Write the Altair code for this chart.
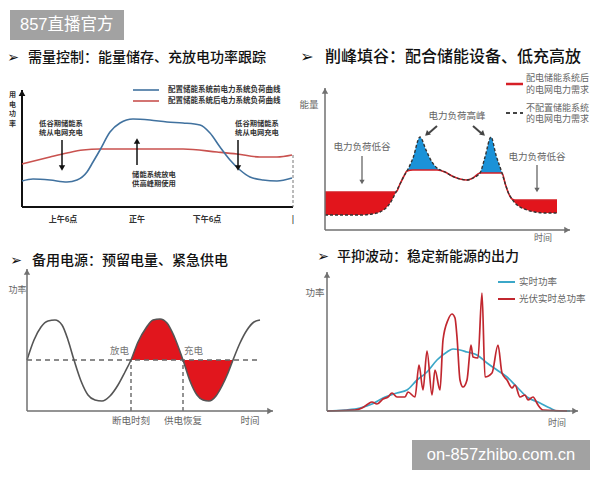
import altair as alt
import numpy as np
import pandas as pd

# ---------------- data ----------------
TITLES = ["需量控制：能量储存、充放电功率跟踪", "削峰填谷：配合储能设备、低充高放",
          "备用电源：预留电量、紧急供电", "平抑波动：稳定新能源的出力"]
WATERMARKS = ["857直播官方", "on-857zhibo.com.cn"]

# Panel 1 – demand control (x: time units along axis, y: load units)
P1_BEFORE_X = [0, 11, 28, 45, 55, 65, 71, 78, 88, 98, 111, 128, 145, 161, 178, 188, 198, 208, 218, 228, 241, 255, 270]
P1_BEFORE = [26, 28, 27, 25, 27, 35, 45, 57, 75, 84, 88, 87, 85, 84, 82, 74, 60, 47, 37, 30, 27, 26, 29]
P1_AFTER_X = [0, 28, 45, 61, 78, 128, 161, 195, 215, 238, 255, 270]
P1_AFTER = [43, 50, 54, 57, 58, 58, 58, 55, 53, 50, 50, 52]
P1_LEGEND = ["配置储能系统前电力系统负荷曲线", "配置储能系统后电力系统负荷曲线"]
P1_TICK_LABELS = ["上午6点", "正午", "下午6点", "|"]
P1_TICK_X = [41, 115, 185, 271]
P1_NOTES = [["低谷期储能系", "统从电网充电"], ["储能系统放电", "供高峰期使用"], ["低谷期储能系", "统从电网充电"]]
P1_YLABEL = ["用", "电", "功", "率"]

# Panel 2 – peak shaving
P2_X = [0, 20, 35, 47, 55, 62, 67, 71, 75, 79, 82, 88, 95, 101, 107, 112, 120, 127, 135, 142,
        148, 155, 160, 166, 171, 177, 180, 183, 187, 190, 195, 202, 210, 220, 232]
P2_WITHOUT = [15, 15, 15, 16, 18, 23, 30, 38, 46, 54, 59, 72, 93, 80, 68, 62, 58, 54, 51, 50,
              52, 57, 73, 93, 75, 57, 47, 38, 31, 27, 23, 20, 18, 17, 17]
P2_WITH = [38, 38, 38, 38, 38, 38, 38, 38, 46, 54, 59, 60, 60, 60, 60, 60, 58, 54, 51, 50,
           52, 57, 57, 57, 57, 57, 47, 38, 31, 30, 30, 30, 30, 30, 30]
P2_LEGEND = [["配电储能系统后", "的电网电力需求"], ["不配置储能系统", "的电网电力需求"]]
P2_NOTES = ["电力负荷低谷", "电力负荷高峰", "电力负荷低谷"]
P2_AXES = ["能量", "时间"]

# Panel 3 – backup power
P3_X = [0, 7, 14, 21, 28, 35, 41, 47, 54, 61, 68, 75, 83, 91, 98, 104, 111, 119, 126, 133,
        140, 147, 156, 163, 170, 176, 182, 189, 195, 201, 206, 213, 220, 227, 233]
P3_Y = [51, 71, 84, 90, 91, 86, 71, 51, 30, 16, 11, 10, 15, 26, 39, 51, 69, 83, 91, 92,
        88, 75, 51, 30, 16, 11, 10, 15, 25, 38, 51, 68, 81, 89, 91]
P3_BASE = 51
P3_EVENTS_X = [104, 156]
P3_EVENT_LABELS = ["断电时刻", "供电恢复"]
P3_FLOW_LABELS = ["放电", "充电"]
P3_AXES = ["功率", "时间"]

# Panel 4 – smoothing fluctuations
P4_SMOOTH_X = [0, 18, 33, 45, 56, 70, 80, 90, 100, 110, 120, 126, 133, 140, 150, 160, 170, 180, 190, 200, 213, 223, 230, 243]
P4_SMOOTH = [0, 1, 3, 7, 13, 18, 21, 31, 39, 51, 59, 62, 61, 59, 56, 48, 41, 34, 24, 14, 8, 3, 0, 0]
P4_PV_X = [0, 28, 35, 41, 45, 50, 56, 61, 65, 70, 78, 81, 88, 92, 96, 100, 105, 108, 113, 116,
           121, 125, 128, 130, 133, 136, 140, 144, 146, 151, 155, 158, 165, 171, 175, 180, 185, 188, 193, 198,
           201, 206, 211, 216, 240]
P4_PV = [0, 1, 3, 7, 9, 7, 12, 14, 18, 14, 14, 19, 14, 46, 21, 60, 16, 41, 21, 71,
         91, 97, 93, 74, 31, 24, 31, 66, 54, 53, 118, 34, 38, 66, 38, 31, 23, 26, 14, 16,
         11, 14, 6, 1, 0]
P4_LEGEND = ["实时功率", "光伏实时总功率"]
P4_AXES = ["功率", "时间"]

# ---------------- layout helpers ----------------
OFF = 8
FONT = "Noto Sans CJK SC"
ONE = pd.DataFrame({"k": [0]})
FRAMES = {
    1: dict(x0=22, y0=207, w=271, h=117),
    2: dict(x0=325, y0=230, w=245, h=142),
    3: dict(x0=27, y0=411, w=246, h=142),
    4: dict(x0=327, y0=411, w=251, h=139),
}


def sx(p):
    f = FRAMES[p]
    return alt.Scale(domain=[0, f["w"]], range=[f["x0"] - OFF, f["x0"] + f["w"] - OFF], nice=False, zero=False)


def sy(p):
    f = FRAMES[p]
    return alt.Scale(domain=[0, f["h"]], range=[f["y0"] - OFF, f["y0"] - f["h"] - OFF], nice=False, zero=False)


def X(p, col="x"):
    return alt.X(f"{col}:Q", scale=sx(p), axis=None)


def Y(p, col="y"):
    return alt.Y(f"{col}:Q", scale=sy(p), axis=None)


layers = []


def txt(s, x, y, size=9.5, color="#666", align="center", weight="normal", font=FONT):
    layers.append(alt.Chart(ONE).mark_text(text=s, align=align, baseline="middle", fontSize=size,
                                           color=color, font=font, fontWeight=weight)
                  .encode(x=alt.value(x - OFF), y=alt.value(y - OFF)))


def seg(x1, y1, x2, y2, color, width, dash=None):
    kw = dict(color=color, strokeWidth=width)
    if dash:
        kw["strokeDash"] = dash
    layers.append(alt.Chart(ONE).mark_rule(**kw).encode(
        x=alt.value(x1 - OFF), y=alt.value(y1 - OFF), x2=alt.value(x2 - OFF), y2=alt.value(y2 - OFF)))


def head(x, y, shape, color, size=40, angle=0):
    layers.append(alt.Chart(ONE).mark_point(shape=shape, filled=True, size=size, color=color, opacity=1,
                                            angle=angle, strokeWidth=0)
                  .encode(x=alt.value(x - OFF), y=alt.value(y - OFF)))


def box(x1, y1, x2, y2, color):
    layers.append(alt.Chart(ONE).mark_rect(color=color).encode(
        x=alt.value(x1 - OFF), x2=alt.value(x2 - OFF), y=alt.value(y1 - OFF), y2=alt.value(y2 - OFF)))


def axes(p, color, width, heads, hsize=40):
    f = FRAMES[p]
    df = pd.DataFrame({"x": [0, 0], "y": [0, 0], "x2": [f["w"], 0], "y2": [0, f["h"]]})
    layers.append(alt.Chart(df).mark_rule(color=color, strokeWidth=width)
                  .encode(x=X(p), y=Y(p), x2="x2:Q", y2="y2:Q"))
    if "y" in heads:
        layers.append(alt.Chart(pd.DataFrame({"x": [0], "y": [f["h"] - 3]}))
                      .mark_point(shape="triangle-up", filled=True, size=hsize, color=color, opacity=1)
                      .encode(x=X(p), y=Y(p)))
    if "x" in heads:
        layers.append(alt.Chart(pd.DataFrame({"x": [f["w"] - 3], "y": [0]}))
                      .mark_point(shape="triangle-right", filled=True, size=hsize, color=color, opacity=1)
                      .encode(x=X(p), y=Y(p)))


def line(p, df, color, width, dash=None, interp="monotone"):
    kw = dict(color=color, strokeWidth=width, interpolate=interp)
    if dash:
        kw["strokeDash"] = dash
    layers.append(alt.Chart(df).mark_line(**kw).encode(x=X(p), y=Y(p)))


# ---------------- watermarks ----------------
box(10, 10, 124, 40, "#a2a2a2")
txt(WATERMARKS[0], 20, 25, size=16.5, color="white", align="left", font="Liberation Sans, Noto Sans CJK SC")

# ---------------- titles ----------------
TITLE_POS = [(13, 28, 58, 14), (307, 325, 57, 16), (16, 32, 261, 14), (323, 337, 257, 14)]
for t, (ax_, tx, ty, fs) in zip(TITLES, TITLE_POS):
    txt("➢", ax_, ty, size=fs, color="#111", font="DejaVu Sans")
    txt(t, tx, ty, size=fs, color="#111", align="left", weight=500)

# ---------------- panel 1 ----------------
axes(1, "#111", 2, "y", hsize=45)
seg(293, 155, 293, 207, "#777", 1, [3, 2])
df1a = pd.DataFrame({"x": P1_AFTER_X, "y": P1_AFTER})
df1b = pd.DataFrame({"x": P1_BEFORE_X, "y": P1_BEFORE})
line(1, df1a, "#c9524f", 1.6)
line(1, df1b, "#41729f", 1.6)
seg(133, 90, 159, 90, "#41729f", 1.6)
seg(133, 101, 159, 101, "#c9524f", 1.6)
txt(P1_LEGEND[0], 168, 90, size=7.5, color="#333", align="left", weight="bold")
txt(P1_LEGEND[1], 168, 101, size=7.5, color="#333", align="left", weight="bold")
ticks1 = pd.DataFrame({"x": P1_TICK_X, "label": P1_TICK_LABELS})
layers.append(alt.Chart(ticks1).mark_text(font=FONT, fontSize=8, fontWeight="bold", color="#333", baseline="middle")
              .encode(x=X(1), y=alt.value(220 - OFF), text="label:N"))
for i, ch in enumerate(P1_YLABEL):
    txt(ch, 12.5, 95 + i * 9.5, size=7, color="#333", weight="bold")
# arrows
seg(62, 140, 62, 166, "#111", 1.5)
head(62, 168, "triangle-down", "#111", 40)
seg(137, 165, 137, 143, "#111", 1.5)
head(137, 141, "triangle-up", "#111", 40)
seg(238, 140, 238, 166, "#111", 1.5)
head(238, 168, "triangle-down", "#111", 40)
for (l1, l2), (cx, cy) in zip(P1_NOTES, [(61, 123.5), (154, 174.5), (257, 123.5)]):
    txt(l1, cx, cy, size=7.3, color="#333", weight="bold")
    txt(l2, cx, cy + 9.5, size=7.3, color="#333", weight="bold")

# ---------------- panel 2 ----------------
df2 = pd.DataFrame({"x": P2_X, "without": P2_WITHOUT, "with": P2_WITH})
df2["lo"] = np.minimum(df2["with"], df2["without"])
layers.append(alt.Chart(df2).mark_area(color="#e2151c", opacity=1, interpolate="monotone")
              .encode(x=X(2), y=Y(2, "with"), y2="lo:Q"))
layers.append(alt.Chart(df2).mark_area(color="#1b92d8", opacity=1, interpolate="monotone")
              .encode(x=X(2), y=Y(2, "without"), y2="lo:Q"))
layers.append(alt.Chart(df2).mark_line(color="#d61f26", strokeWidth=1.6, interpolate="monotone")
              .encode(x=X(2), y=Y(2, "with")))
layers.append(alt.Chart(df2).mark_line(color="#333", strokeWidth=1.4, strokeDash=[3, 2], interpolate="monotone")
              .encode(x=X(2), y=Y(2, "without")))
axes(2, "#707070", 1.5, "xy", hsize=40)
txt(P2_AXES[0], 309, 105, size=9.5, color="#666")
txt(P2_AXES[1], 543, 238, size=9, color="#666")
seg(506, 84, 523, 84, "#d61f26", 2.5)
seg(506, 113, 523, 113, "#444", 2, [4, 3])
txt(P2_LEGEND[0][0], 526, 78, size=9, color="#666", align="left")
txt(P2_LEGEND[0][1], 526, 89.5, size=9, color="#666", align="left")
txt(P2_LEGEND[1][0], 526, 107.5, size=9, color="#666", align="left")
txt(P2_LEGEND[1][1], 526, 119, size=9, color="#666", align="left")
txt(P2_NOTES[0], 362, 147, size=9.5, color="#666")
seg(362, 156, 362, 180, "#666", 1.3)
head(362, 182, "triangle-down", "#666", 28)
txt(P2_NOTES[1], 457, 116, size=9.5, color="#666")
seg(437, 126, 429, 133, "#444", 2)
head(427, 134, "triangle-up", "#444", 35, angle=228)
seg(473, 126, 481, 133, "#444", 2)
head(483, 134, "triangle-up", "#444", 35, angle=132)
txt(P2_NOTES[2], 537, 157, size=9.5, color="#666")
seg(537, 165, 537, 188, "#666", 1.3)
head(537, 190, "triangle-down", "#666", 28)

# ---------------- panel 3 ----------------
df3 = pd.DataFrame({"x": P3_X, "y": P3_Y})
df3["base"] = P3_BASE
fill3 = df3[(df3["x"] >= P3_EVENTS_X[0]) & (df3["x"] <= 206)]
layers.append(alt.Chart(fill3).mark_area(color="#e1161d", opacity=1, interpolate="monotone")
              .encode(x=X(3), y=Y(3), y2="base:Q"))
base3 = pd.DataFrame({"x": [0], "x2": [P3_X[-1]], "y": [P3_BASE]})
layers.append(alt.Chart(base3).mark_rule(color="#666", strokeWidth=1.4, strokeDash=[5, 4])
              .encode(x=X(3), x2="x2:Q", y=Y(3)))
ev3 = pd.DataFrame({"x": P3_EVENTS_X, "y": [0, 0], "y2": [P3_BASE, P3_BASE], "label": P3_EVENT_LABELS})
layers.append(alt.Chart(ev3).mark_rule(color="#666", strokeWidth=1.4, strokeDash=[4, 3])
              .encode(x=X(3), y=Y(3), y2="y2:Q"))
line(3, df3, "#555", 1.6)
axes(3, "#707070", 1.5, "xy", hsize=40)
layers.append(alt.Chart(ev3).mark_text(font=FONT, fontSize=9.5, color="#666", baseline="middle")
              .encode(x=X(3), y=alt.value(421 - OFF), text="label:N"))
txt(P3_FLOW_LABELS[0], 129, 351, size=9.5, color="#777", align="right")
txt(P3_FLOW_LABELS[1], 184, 351, size=9.5, color="#777", align="left")
txt(P3_AXES[0], 8.5, 290, size=9, color="#666", align="left")
txt(P3_AXES[1], 250, 421, size=9.5, color="#666")

# ---------------- panel 4 ----------------
df4s = pd.DataFrame({"x": P4_SMOOTH_X, "y": P4_SMOOTH})
df4p = pd.DataFrame({"x": P4_PV_X, "y": P4_PV})
line(4, df4s, "#3ba7c8", 1.7)
line(4, df4p, "#c1272f", 1.7)
axes(4, "#707070", 1.5, "xy", hsize=40)
seg(498, 282, 515, 282, "#3ba7c8", 2)
seg(498, 299, 515, 299, "#c1272f", 2)
txt(P4_LEGEND[0], 519, 282, size=9.5, color="#666", align="left")
txt(P4_LEGEND[1], 519, 299, size=9.5, color="#666", align="left")
txt(P4_AXES[0], 315, 293, size=9.5, color="#666")
txt(P4_AXES[1], 557, 423, size=9, color="#666")

# ---------------- bottom watermark ----------------
box(412, 440, 590, 470, "#a2a2a2")
txt(WATERMARKS[1], 501, 455, size=16.5, color="white", font="Liberation Sans")

chart = (alt.layer(*layers)
         .resolve_scale(x="independent", y="independent")
         .properties(width=584, height=464, padding=0, autosize="none", background="white")
         .configure_view(stroke=None))

chart.save("out.html", embed_options={"renderer": "svg", "actions": False})
